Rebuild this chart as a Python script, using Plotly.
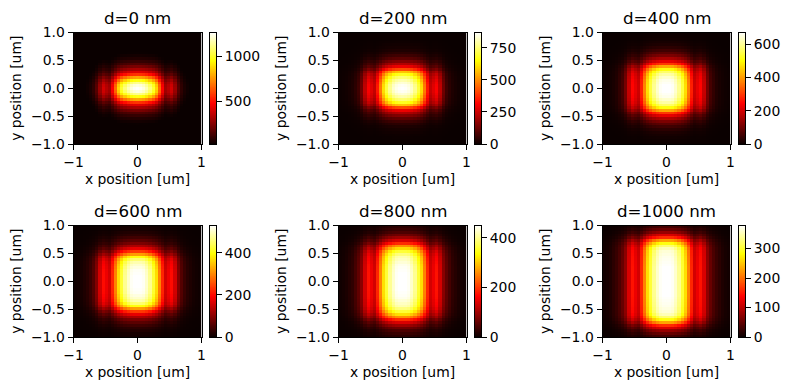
import numpy as np
import plotly.graph_objects as go

# --- data ---
titles = ["d=0 nm", "d=200 nm", "d=400 nm", "d=600 nm", "d=800 nm", "d=1000 nm"]
peaks = [1270, 870, 670, 530, 450, 378]
floors = [20, 0, 0, 0, 0, 0]
cbar_ticks = [[500, 1000], [0, 250, 500, 750], [0, 200, 400, 600],
              [0, 200, 400], [0, 200, 400], [0, 100, 200, 300]]

# relative intensity from the centre outward along x (through y=0)
fx_0 = [1.0, .99, .97, .93, .87, .80, .69, .53, .37, .24, .27, .31, .23, .13, .07, .04, .025, .015, .01, .006, .004]
fx_200 = [1.0, .995, .98, .95, .89, .81, .70, .55, .40, .28, .32, .36, .27, .15, .08, .05, .03, .02, .012, .008, .005]
fx_400 = [1.0, 1.0, .99, .95, .89, .81, .70, .56, .41, .29, .33, .37, .28, .16, .09, .06, .035, .022, .014, .009, .006]
fx_600 = [1.0, 1.0, .99, .95, .89, .80, .70, .56, .42, .30, .34, .38, .30, .18, .11, .07, .045, .03, .018, .012, .008]
fx_800 = [1.0, 1.0, .99, .95, .89, .80, .70, .56, .42, .30, .34, .39, .30, .19, .13, .09, .055, .04, .025, .016, .011]
fx_1000 = [1.0, 1.0, .99, .95, .89, .80, .70, .56, .42, .30, .34, .39, .31, .20, .14, .10, .07, .05, .03, .02, .014]

# relative intensity from the centre outward along y (through x=0)
fy_0 = [1.0, .97, .89, .77, .62, .45, .33, .25, .18, .12, .08, .05, .03, .018, .012, .008, .005, .003, .002, .002, .001]
fy_200 = [1.0, .99, .96, .92, .86, .78, .66, .48, .34, .25, .18, .12, .08, .05, .03, .018, .012, .007, .004, .003, .002]
fy_400 = [1.0, 1.0, .99, .98, .95, .91, .85, .76, .62, .45, .33, .24, .17, .12, .08, .05, .03, .02, .012, .008, .005]
fy_600 = [1.0, 1.0, 1.0, .995, .99, .97, .95, .92, .86, .76, .60, .45, .33, .24, .17, .12, .08, .05, .035, .02, .015]
fy_800 = [1.0, 1.0, 1.0, 1.0, .995, .99, .98, .96, .94, .92, .87, .80, .70, .58, .43, .31, .22, .15, .10, .07, .05]
fy_1000 = [1.0, 1.0, 1.0, 1.0, 1.0, 1.0, .995, .99, .985, .98, .97, .96, .93, .86, .76, .61, .43, .31, .21, .14, .09]

profiles_x = [fx_0, fx_200, fx_400, fx_600, fx_800, fx_1000]
profiles_y = [fy_0, fy_200, fy_400, fy_600, fy_800, fy_1000]

hot = [[0, "rgb(10,0,0)"], [0.365, "rgb(255,0,0)"], [0.746, "rgb(255,255,0)"], [1, "rgb(255,255,255)"]]

W, H = 790, 390
left = [73.5, 338.5, 602.5]
top = [32.5, 225.5]
ax_w, ax_h = 128, 111.5
bar_gap, bar_w = 136, 6.5
font = "DejaVu Sans"
fs = 13.9
tick_font = dict(family=font, size=fs, color="black")


def full(half):
    return np.array(list(half[:0:-1]) + list(half))


n = 41
centres = -1 + (np.arange(n) + 0.5) * 2 / n

fig = go.Figure()
layout = {}
annotations = []
axis = dict(
    showgrid=False, zeroline=False, showline=True, linecolor="black",
    linewidth=1, mirror=True, ticks="outside", ticklen=5, tickwidth=1, tickcolor="black",
    tickfont=tick_font, automargin=False,
)
for k in range(6):
    r, c = k // 3, k % 3
    x0, y0 = left[c], top[r]
    s = "" if k == 0 else str(k + 1)
    z = peaks[k] * np.outer(full(profiles_y[k]), full(profiles_x[k]))
    z = np.clip(z, floors[k], None)
    fig.add_trace(go.Heatmap(
        x=centres, y=centres, z=z, xaxis="x" + s, yaxis="y" + s, showscale=False,
        zmin=floors[k], zmax=peaks[k], colorscale=hot, zsmooth=False, hoverinfo="skip",
    ))
    layout["xaxis" + s] = dict(
        axis, range=[-1, 1], domain=[x0 / W, (x0 + ax_w) / W], anchor="y" + s, tickmode="array",
        tickvals=[-1, 0, 1], ticktext=["\u22121", "0", "1"],
        title=dict(text="x position [um]", standoff=5, font=tick_font),
    )
    layout["yaxis" + s] = dict(
        axis, range=[-1, 1], domain=[1 - (y0 + ax_h) / H, 1 - y0 / H], anchor="x" + s, tickmode="array",
        tickvals=[-1, -0.5, 0, 0.5, 1],
        ticktext=["\u22121.0", "\u22120.5", "0.0", "0.5", "1.0"],
        title=dict(text="y position [um]", standoff=6, font=tick_font),
    )
    # colour bar drawn as a slim heatmap with its own scale axis
    b = str(k + 7)
    levels = np.linspace(floors[k], peaks[k], 256)
    fig.add_trace(go.Heatmap(
        x=[0], y=levels, z=levels[:, None], xaxis="x" + b, yaxis="y" + b, showscale=False,
        zmin=floors[k], zmax=peaks[k], colorscale=hot, zsmooth=False, hoverinfo="skip",
    ))
    layout["xaxis" + b] = dict(
        axis, domain=[(x0 + bar_gap) / W, (x0 + bar_gap + bar_w) / W], anchor="y" + b,
        range=[-0.5, 0.5], ticks="", showticklabels=False,
    )
    layout["yaxis" + b] = dict(
        axis, domain=[1 - (y0 + ax_h) / H, 1 - y0 / H], anchor="x" + b, side="right",
        range=[floors[k], peaks[k]], tickmode="array", tickvals=cbar_ticks[k],
    )
    annotations.append(dict(
        text=titles[k], x=(x0 + ax_w / 2) / W, y=1 - (y0 - 2) / H, xref="paper", yref="paper",
        xanchor="center", yanchor="bottom", showarrow=False,
        font=dict(family=font, size=16.67, color="black"),
    ))

fig.update_layout(
    width=W, height=H, margin=dict(l=0, r=0, t=0, b=0), autosize=False,
    paper_bgcolor="white", plot_bgcolor="white", annotations=annotations, **layout,
)
fig.write_html("out.html", post_script="document.body.style.margin='0';document.body.style.overflow='hidden';",
               config={"displayModeBar": False})
